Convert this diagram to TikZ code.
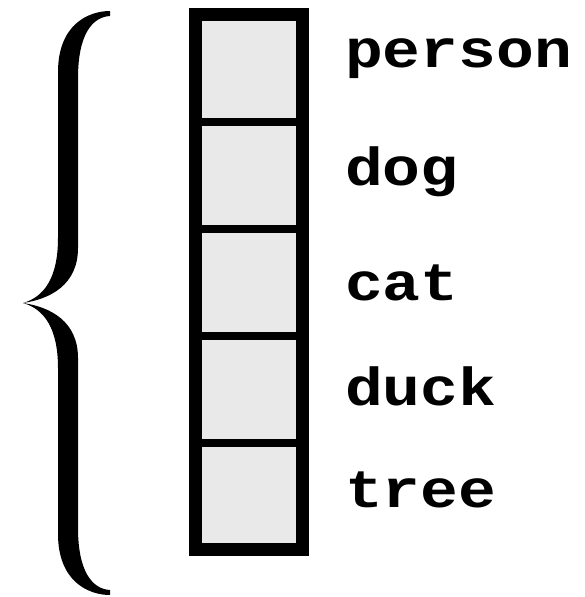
\documentclass[tikz,border=0pt]{standalone}
\usepackage{fontspec}
\newfontfamily\labelfont{Liberation Mono}
\definecolor{cellgray}{RGB}{233,233,233}
\newcommand{\lbltext}[1]{\scalebox{1}[0.85]{#1}}
\begin{document}
\begin{tikzpicture}[x=1pt,y=-1pt,
  cell/.style={draw=black,fill=cellgray,line width=8pt,minimum width=107pt,minimum height=107pt,inner sep=0pt,outer sep=0pt},
  lbl/.style={anchor=base west,inner sep=0pt,outer sep=0pt,font=\labelfont\bfseries\fontsize{63}{63}\selectfont}]
\useasboundingbox (0,0) rectangle (585,597);
% cells
\node[cell] (c1) at (249,68) {};
\node[cell] (c2) at (249,175) {};
\node[cell] (c3) at (249,282) {};
\node[cell] (c4) at (249,389) {};
\node[cell] (c5) at (249,496) {};
\draw[line width=13pt] (c1.north west) rectangle (c5.south east);
% labels
\node[lbl] (l1) at (345,67) {\lbltext{person}};
\node[lbl] (l2) at (345,185) {\lbltext{dog}};
\node[lbl] (l3) at (345,300) {\lbltext{cat}};
\node[lbl] (l4) at (345,405) {\lbltext{duck}};
\node[lbl] (l5) at (345,507) {\lbltext{tree}};
% brace
\fill (110,11) .. controls (88,11) and (58,25) .. (58,72) -- (58,238)
  .. controls (58,278) and (44,297) .. (23,303)
  .. controls (50,299) and (78,285) .. (78,248) -- (78,78)
  .. controls (78,35) and (92,17) .. (110,16) -- cycle;
\fill (110,595) .. controls (88,595) and (58,581) .. (58,534) -- (58,368)
  .. controls (58,328) and (44,309) .. (23,303)
  .. controls (50,307) and (78,321) .. (78,358) -- (78,528)
  .. controls (78,571) and (92,589) .. (110,590) -- cycle;
\end{tikzpicture}
\end{document}
